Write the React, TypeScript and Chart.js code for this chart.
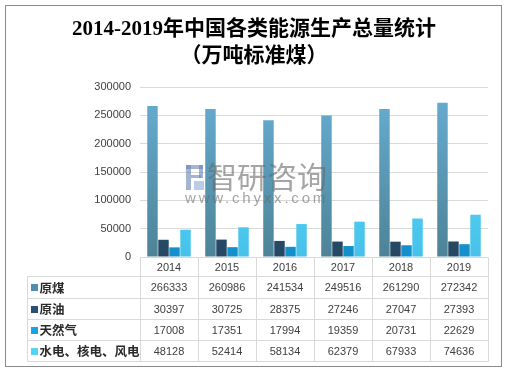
import React, { useEffect, useRef } from "react";
import { Chart, registerables } from "chart.js";

Chart.register(...registerables);

const years = ["2014", "2015", "2016", "2017", "2018", "2019"];
const seriesNames = ["原煤", "原油", "天然气", "水电、核电、风电"];
const rawCoal = [266333, 260986, 241534, 249516, 261290, 272342];
const crudeOil = [30397, 30725, 28375, 27246, 27047, 27393];
const naturalGas = [17008, 17351, 17994, 19359, 20731, 22629];
const primaryElectricity = [48128, 52414, 58134, 62379, 67933, 74636];
const yMax = 300000;
const yStep = 50000;
const titleLines = ["2014-2019年中国各类能源生产总量统计", "（万吨标准煤）"];

const seriesValues = [rawCoal, crudeOil, naturalGas, primaryElectricity];
const gradStops: [string, string][] = [
  ["#67afd4", "#4d8397"],
  ["#315e82", "#254763"],
  ["#1aabe8", "#138fcb"],
  ["#5fe2fb", "#47c1ea"],
];
const markerColors = ["#4f8fae", "#2b4f6e", "#1aa3e2", "#56d2f2"];

const W = 507;
const H = 372;

const framePlugin = {
  id: "frame",
  beforeDraw(chart: any) {
    const ctx = chart.ctx;
    ctx.save();
    ctx.fillStyle = "#ffffff";
    ctx.fillRect(0, 0, W, H);
    ctx.strokeStyle = "#8a8a8a";
    ctx.lineWidth = 1;
    ctx.strokeRect(5.5, 5.5, 496, 361);
    ctx.fillStyle = "#000000";
    ctx.textAlign = "center";
    ctx.textBaseline = "middle";
    ctx.font = 'bold 21px "Liberation Serif", "Noto Sans CJK SC", serif';
    ctx.fillText(titleLines[0], 254, 30);
    ctx.fillText(titleLines[1], 254, 57);
    ctx.restore();
  },
  afterDatasetsDraw(chart: any) {
    const ctx = chart.ctx;
    ctx.save();
    // watermark logo
    ctx.fillStyle = "rgba(105,130,180,0.6)";
    ctx.fillRect(186, 165, 5, 25);
    ctx.fillRect(186, 165, 17, 4);
    ctx.fillRect(199, 165, 4, 13);
    ctx.fillRect(191, 175, 10, 3);
    ctx.fillStyle = "rgba(140,170,215,0.6)";
    ctx.fillRect(194, 181, 10, 9);
    ctx.fillStyle = "rgba(105,105,105,0.6)";
    ctx.textBaseline = "middle";
    ctx.textAlign = "left";
    ctx.font = '30px "Noto Sans CJK SC", sans-serif';
    ctx.fillText("智研咨询", 207, 177);
    ctx.font = '15px "Liberation Sans", sans-serif';
    (ctx as any).letterSpacing = "2.8px";
    ctx.fillText("www.chyxx.com", 185, 199);
    ctx.restore();
  },
  afterDraw(chart: any) {
    const ctx = chart.ctx;
    const area = chart.chartArea;
    const xs = chart.scales.x;
    const left = area.left;
    const right = area.right;
    const n = years.length;
    const colW = (right - left) / n;
    const labelLeft = 27;
    const rowYs = [area.bottom, 276, 298, 319, 340, 361];
    const px = (v: number) => Math.round(v) + 0.5;
    ctx.save();
    ctx.strokeStyle = "#d9d9d9";
    ctx.lineWidth = 1;
    ctx.beginPath();
    rowYs.forEach((y, i) => {
      ctx.moveTo(i === 0 ? px(left) : px(labelLeft), px(y));
      ctx.lineTo(px(right), px(y));
    });
    ctx.moveTo(px(labelLeft), px(rowYs[1]));
    ctx.lineTo(px(labelLeft), px(rowYs[5]));
    for (let k = 0; k <= n; k++) {
      const x = px(left + k * colW);
      ctx.moveTo(x, px(rowYs[0]));
      ctx.lineTo(x, px(rowYs[5]));
    }
    ctx.stroke();

    ctx.fillStyle = "#404040";
    ctx.textAlign = "center";
    ctx.textBaseline = "middle";
    ctx.font = '11px "Liberation Sans", "Noto Sans", sans-serif';
    years.forEach((yr, k) => {
      const cx = xs.getPixelForValue(k);
      ctx.fillText(yr, cx, (rowYs[0] + rowYs[1]) / 2 + 1);
    });
    seriesValues.forEach((vals, r) => {
      const cy = (rowYs[r + 1] + rowYs[r + 2]) / 2 + 1;
      ctx.textAlign = "center";
      ctx.fillStyle = "#404040";
      ctx.font = '11px "Liberation Sans", "Noto Sans", sans-serif';
      vals.forEach((v, k) => {
        ctx.fillText(String(v), xs.getPixelForValue(k), cy);
      });
      ctx.fillStyle = markerColors[r];
      ctx.fillRect(31, Math.round(cy) - 4, 7, 7);
      ctx.fillStyle = "#2a2a2a";
      ctx.textAlign = "left";
      ctx.font = 'bold 12.5px "Noto Sans CJK SC", sans-serif';
      ctx.fillText(seriesNames[r], 39.5, cy);
    });
    ctx.restore();
  },
};

export default function App() {
  const ref = useRef<HTMLCanvasElement | null>(null);
  useEffect(() => {
    if (!ref.current) return;
    const makeGrad = (chart: any, i: number) => {
      const area = chart.chartArea;
      if (!area) return gradStops[i][0];
      const g = chart.ctx.createLinearGradient(0, area.top, 0, area.bottom);
      g.addColorStop(0, gradStops[i][0]);
      g.addColorStop(1, gradStops[i][1]);
      return g;
    };
    const chart = new Chart(ref.current, {
      type: "bar",
      data: {
        labels: years,
        datasets: seriesValues.map((vals, i) => ({
          label: seriesNames[i],
          data: vals,
          backgroundColor: (c: any) => makeGrad(c.chart, i),
          borderWidth: 0,
          categoryPercentage: 0.76,
          barPercentage: 0.95,
        })),
      },
      options: {
        animation: false,
        responsive: false,
        devicePixelRatio: 1,
        layout: { padding: { top: 87, bottom: 115, left: 0, right: 19 } },
        plugins: {
          legend: { display: false },
          title: { display: false },
          tooltip: { enabled: false },
        },
        scales: {
          x: { display: false },
          y: {
            min: 0,
            max: yMax,
            ticks: {
              stepSize: yStep,
              padding: 9,
              color: "#404040",
              font: { family: '"Liberation Sans", "Noto Sans", sans-serif', size: 11 },
              callback: (v: any) => String(v),
            },
            grid: { color: "#d9d9d9", drawTicks: false },
            border: { display: false },
            afterFit(scale: any) {
              scale.width = 140;
            },
          },
        },
      } as any,
      plugins: [framePlugin],
    });
    return () => chart.destroy();
  }, []);
  return (
    <div style={{ position: "fixed", left: 0, top: 0, width: W, height: H, background: "#fff" }}>
      <canvas ref={ref} width={W} height={H} style={{ display: "block", width: W, height: H }} />
    </div>
  );
}
